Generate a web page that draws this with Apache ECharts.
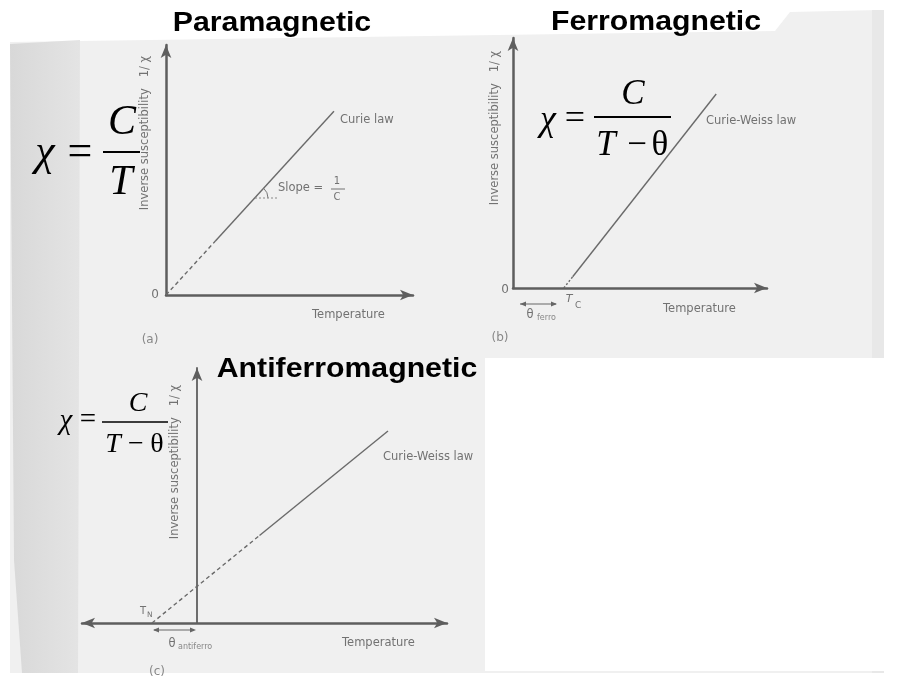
<!DOCTYPE html>
<html>
<head>
<meta charset="utf-8">
<script src="https://cdn.jsdelivr.net/npm/echarts@6/dist/echarts.min.js"></script>
<style>html,body{margin:0;padding:0;background:#fff}#c{width:904px;height:680px}</style>
</head>
<body>
<div id="c"></div>
<script>
// ---- data (arbitrary temperature / inverse susceptibility units) ----
const paraDashed  = [[0, 0], [20, 21.6]];
const paraSolid   = [[20, 21.6], [68, 73.5]];
const ferroDotted = [[20, 0], [23.5, 4.5]];
const ferroSolid  = [[23.5, 4.5], [80, 77.6]];
const afDashed    = [[-18, 0], [25, 34.3]];
const afSolid     = [[25, 34.3], [76.4, 75.3]];
const titles = ['Paramagnetic', 'Ferromagnetic', 'Antiferromagnetic'];
const lawLabels = ['Curie law', 'Curie-Weiss law', 'Curie-Weiss law'];
const panelTags = ['(a)', '(b)', '(c)'];
const xName = 'Temperature';
const yName = 'Inverse susceptibility   1/ χ';

const AX = '#5e5e5e', LN = '#6a6a6a', TX = '#727272';
const SANS = '"DejaVu Sans", sans-serif';
const SERIF = '"Liberation Serif", "DejaVu Serif", serif';
const BOLD = '"Liberation Sans", Arial, sans-serif';

function axis(min, max, both) {
  return {
    type: 'value', min: min, max: max,
    axisLine: { show: true, onZero: true, symbol: both ? ['arrow', 'arrow'] : ['none', 'arrow'],
      symbolSize: [8, 13], lineStyle: { color: AX, width: 2.5 } },
    axisTick: { show: false }, axisLabel: { show: false }, splitLine: { show: false }
  };
}
function yax(w) {
  const a = axis(0, 100, false);
  a.axisLine.lineStyle.width = w;
  return a;
}
function seg(data, gi, type) {
  return { type: 'line', xAxisIndex: gi, yAxisIndex: gi, data: data, symbol: 'none',
    silent: true, z: 5, lineStyle: { color: LN, width: 1.4, type: type } };
}
function t(x, y, text, o) {
  o = o || {};
  return { type: 'text', x: x, y: y, z: 20, rotation: o.rot || 0, scaleX: o.sx || 1,
    style: { text: text, fill: o.fill || TX,
      font: (o.style || '') + ' ' + (o.weight || 'normal') + ' ' + (o.size || 12) + 'px ' + (o.family || SANS),
      textAlign: o.align || 'left', textVerticalAlign: o.va || 'middle' } };
}
function ln(x1, y1, x2, y2, o) {
  o = o || {};
  return { type: 'line', z: 20, shape: { x1: x1, y1: y1, x2: x2, y2: y2 },
    style: { stroke: o.stroke || '#111', lineWidth: o.w || 1.5, lineDash: o.dash || null } };
}
function tri(x, y, dir) {
  return { type: 'polygon', z: 20, shape: { points: [[x, y], [x - dir * 6, y - 2.5], [x - dir * 6, y + 2.5]] },
    style: { fill: '#666' } };
}
function eq(x, y, s, text, italic) {
  return t(x, y, text, { size: s, fill: '#000', family: SERIF, align: 'center', style: italic ? 'italic' : '' });
}

const graphic = [
  // paper background
  { type: 'polygon', z: -10, shape: { points: [[10, 42], [775, 31], [790, 12], [880, 10], [884, 673], [10, 673]] }, style: { fill: '#f0f0f0' } },
  { type: 'polygon', z: -9, shape: { points: [[10, 44], [80, 40], [78, 673], [22, 673], [14, 560]] },
    style: { fill: { type: 'linear', x: 0, y: 0, x2: 1, y2: 0,
      colorStops: [{ offset: 0, color: '#d8d8d8' }, { offset: 1, color: '#e4e4e4' }] } } },
  { type: 'rect', z: -9, shape: { x: 872, y: 10, width: 12, height: 663 }, style: { fill: '#e8e8e8' } },
  { type: 'rect', z: -8, shape: { x: 485, y: 358, width: 409, height: 313 }, style: { fill: '#ffffff' } },
  // titles
  t(272, 24, titles[0], { size: 27, weight: 'bold', fill: '#000', align: 'center', family: BOLD, sx: 1.12 }),
  t(656, 23, titles[1], { size: 27, weight: 'bold', fill: '#000', align: 'center', family: BOLD, sx: 1.12 }),
  t(347, 369, titles[2], { size: 28, weight: 'bold', fill: '#000', align: 'center', family: BOLD, sx: 1.08 }),
  // panel (a) equation χ = C/T
  eq(45, 153, 44, 'χ', true),
  eq(80, 153, 44, '=', false),
  eq(122, 123, 42, 'C', true),
  ln(103, 152, 140, 152, { w: 2, stroke: '#000' }),
  eq(121, 183, 42, 'T', true),
  // panel (b) equation
  eq(548, 121, 36, 'χ', true),
  eq(575, 120, 36, '=', false),
  eq(633, 95, 35, 'C', true),
  ln(594, 117, 671, 117, { w: 1.8, stroke: '#000' }),
  eq(606, 146, 35, 'T', true),
  eq(637, 146, 35, '−', false),
  eq(660, 146, 35, 'θ', false),
  // panel (c) equation
  eq(66, 421, 29, 'χ', true),
  eq(88, 420, 29, '=', false),
  eq(138, 404, 28, 'C', true),
  ln(102, 422, 168, 422, { w: 1.6, stroke: '#000' }),
  eq(113, 445, 28, 'T', true),
  eq(136, 445, 28, '−', false),
  eq(157, 445, 28, 'θ', false),
  // panel (a) labels
  t(145, 133, yName, { rot: Math.PI / 2, align: 'center', size: 11.5 }),
  t(155, 295, '0', { align: 'center', size: 12 }),
  t(340, 120, lawLabels[0], { size: 11.5 }),
  t(278, 188, 'Slope =', { size: 11.5 }),
  t(337, 181, '1', { size: 10, align: 'center' }),
  ln(331, 189, 345, 189, { w: 1, stroke: TX }),
  t(337, 197, 'C', { size: 10, align: 'center' }),
  { type: 'arc', z: 20, shape: { cx: 255, cy: 198, r: 13, startAngle: -0.834, endAngle: 0, clockwise: true },
    style: { stroke: '#777', lineWidth: 1, fill: null } },
  ln(255, 198, 279, 198, { w: 1, stroke: '#888', dash: [2, 2] }),
  t(312, 315, xName, { size: 11.5 }),
  t(150, 340, panelTags[0], { size: 12, align: 'center', fill: '#888' }),
  // panel (b) labels
  t(495, 128, yName, { rot: Math.PI / 2, align: 'center', size: 11.5 }),
  t(505, 290, '0', { align: 'center', size: 12 }),
  t(706, 121, lawLabels[1], { size: 11.5 }),
  t(663, 309, xName, { size: 11.5 }),
  ln(520, 304, 556, 304, { w: 1, stroke: '#666' }), tri(520, 304, -1), tri(557, 304, 1),
  t(530, 315, 'θ', { size: 11.5, align: 'center' }),
  t(537, 318, 'ferro', { size: 8, fill: '#888' }),
  t(569, 299, 'T', { size: 11, style: 'italic', align: 'center' }),
  t(575, 306, 'C', { size: 9 }),
  t(500, 338, panelTags[1], { size: 12, align: 'center', fill: '#888' }),
  // panel (c) labels
  t(175, 462, yName, { rot: Math.PI / 2, align: 'center', size: 11.5 }),
  t(383, 457, lawLabels[2], { size: 11.5 }),
  t(342, 643, xName, { size: 11.5 }),
  t(143, 611, 'T', { size: 10, align: 'center' }),
  t(147, 615, 'N', { size: 7.5 }),
  ln(154, 630, 194, 630, { w: 1, stroke: '#666' }), tri(153, 630, -1), tri(196, 630, 1),
  t(172, 644, 'θ', { size: 11.5, align: 'center' }),
  t(178, 647, 'antiferro', { size: 8, fill: '#888' }),
  t(157, 672, panelTags[2], { size: 12, align: 'center', fill: '#888' })
];

const option = {
  backgroundColor: '#ffffff',
  animation: false,
  grid: [
    { left: 166, top: 45, width: 247, height: 250 },
    { left: 513, top: 38, width: 254, height: 250 },
    { left: 82, top: 368, width: 365, height: 255 }
  ],
  xAxis: [Object.assign(axis(0, 100, false), { gridIndex: 0 }),
          Object.assign(axis(0, 100, false), { gridIndex: 1 }),
          Object.assign(axis(-46, 100, true), { gridIndex: 2 })],
  yAxis: [Object.assign(yax(2.5), { gridIndex: 0 }),
          Object.assign(yax(2.5), { gridIndex: 1 }),
          Object.assign(yax(1.8), { gridIndex: 2 })],
  series: [
    seg(paraDashed, 0, [4, 3]), seg(paraSolid, 0, 'solid'),
    seg(ferroDotted, 1, [2, 2]), seg(ferroSolid, 1, 'solid'),
    seg(afDashed, 2, [4, 3]), seg(afSolid, 2, 'solid')
  ],
  graphic: graphic
};
const chart = echarts.init(document.getElementById('c'), null, { renderer: 'canvas' });
chart.setOption(option);
</script>
</body>
</html>
